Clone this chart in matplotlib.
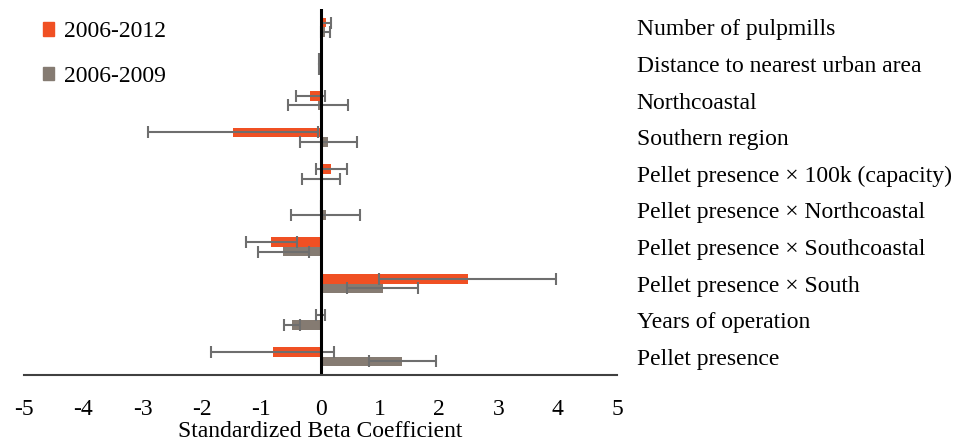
import numpy as np
import matplotlib.pyplot as plt
from matplotlib.patches import Patch

plt.rcParams['font.family'] = ['Liberation Serif', 'DejaVu Serif']
plt.rcParams['axes.unicode_minus'] = False

# categories, top to bottom
labels = ['Number of pulpmills', 'Distance to nearest urban area', 'Northcoastal',
          'Southern region', 'Pellet presence \u00d7 100k (capacity)',
          'Pellet presence \u00d7 Northcoastal', 'Pellet presence \u00d7 Southcoastal',
          'Pellet presence \u00d7 South', 'Years of operation', 'Pellet presence']

beta_2012 = [0.10, -0.01, -0.17, -1.48, 0.18, 0.00, -0.83, 2.48, 0.00, -0.81]
err_2012 = [0.08, 0.01, 0.25, 1.43, 0.26, 0.00, 0.43, 1.49, 0.07, 1.04]
beta_2009 = [0.08, -0.02, -0.04, 0.13, 0.00, 0.09, -0.63, 1.05, -0.48, 1.38]
err_2009 = [0.08, 0.01, 0.51, 0.48, 0.32, 0.58, 0.43, 0.60, 0.14, 0.56]

c_2012 = '#f05023'
c_2009 = '#857b72'

fig = plt.figure(figsize=(9.73, 4.43), dpi=100)
ax = fig.add_axes([0.0247, 0.1535, 0.6095, 0.826])

y = np.arange(len(labels))
h = 0.26
ekw = dict(ecolor='#6e6e6e', elinewidth=1.5, capsize=4.5, capthick=1.5)
ax.barh(y - h / 2, beta_2012, height=h, color=c_2012, xerr=err_2012, error_kw=ekw)
ax.barh(y + h / 2, beta_2009, height=h, color=c_2009, xerr=err_2009, error_kw=ekw)

ax.axvline(0, color='black', lw=2.2)
ax.set_xlim(-5, 5)
ax.set_ylim(len(labels) - 0.5, -0.5)
ax.set_xticks(range(-5, 6))
ax.tick_params(axis='x', length=0, labelsize=17, pad=17)

ax.yaxis.tick_right()
ax.set_yticks(y)
ax.set_yticklabels(labels, fontsize=17)
ax.tick_params(axis='y', length=0, pad=14)
for t in ax.get_yticklabels():
    t.set_ha('left')

for s in ['top', 'left', 'right']:
    ax.spines[s].set_visible(False)
ax.spines['bottom'].set_color('#404040')
ax.spines['bottom'].set_linewidth(1.5)

ax.set_xlabel('Standardized Beta Coefficient', fontsize=17, labelpad=1)

handles = [Patch(color=c_2012, label='2006-2012'), Patch(color=c_2009, label='2006-2009')]
fig.legend(handles=handles, loc='upper left', bbox_to_anchor=(0.022, 1.0), frameon=False,
           fontsize=17, handlelength=0.5, handleheight=0.5, handletextpad=0.4,
           labelspacing=1.0)

fig.savefig('out.png', dpi=100)
